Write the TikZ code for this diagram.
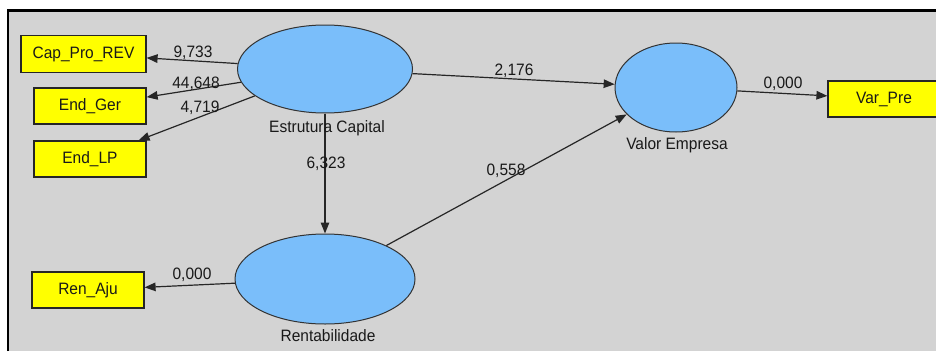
\documentclass[tikz,border=0pt]{standalone}
\usepackage{fontspec}
\setmainfont[FakeStretch=0.94]{Liberation Sans}
\usetikzlibrary{arrows.meta,shapes.geometric}
\definecolor{bgray}{RGB}{211,211,211}
\definecolor{lvblue}{RGB}{122,190,250}
\definecolor{ind}{RGB}{255,255,0}
\definecolor{txt}{RGB}{25,25,25}
\tikzset{
  indbox/.style={draw=black!85, line width=1.2pt, fill=ind, rectangle, minimum width=112pt, minimum height=36pt, inner sep=0pt, font=\fontsize{16.5}{19}\selectfont, text=txt},
  latent/.style={draw=black!80, line width=1pt, fill=lvblue, ellipse, inner sep=0pt},
  conn/.style={draw=black!85, line width=1.2pt, -{Triangle[length=11pt,width=8.5pt]}},
  numlbl/.style={anchor=base, inner sep=0pt, font=\fontsize{16.5}{19}\selectfont, text=txt},
  lvlbl/.style={anchor=base, inner sep=0pt, font=\fontsize{16.5}{19}\selectfont, text=txt}
}
\begin{document}
\begin{tikzpicture}[x=1pt,y=-1pt]
\useasboundingbox (0,0) rectangle (936,351);
\fill[white] (0,0) rectangle (936,351);
\fill[bgray] (8,10.5) rectangle (936,351);
\draw[black, line width=2.4pt] (8,351) -- (8,10.5) -- (936,10.5);
\begin{scope}
\clip (9.5,12) rectangle (936,351);
% latent variables
\node[latent, minimum width=175pt, minimum height=88pt] (ec) at (325,69) {};
\node[latent, minimum width=180pt, minimum height=90pt] (re) at (325,279) {};
\node[latent, minimum width=122pt, minimum height=89pt] (ve) at (676,87.5) {};
% indicators
\node[indbox, minimum width=125pt, minimum height=37pt] (cap) at (83.5,54) {Cap\_Pro\_REV};
\node[indbox] (ger) at (90,106) {End\_Ger};
\node[indbox] (lp) at (90,159) {End\_LP};
\node[indbox] (ren) at (88,290) {Ren\_Aju};
\node[indbox] (var) at (884,99) {Var\_Pre};
% connectors
\draw[conn] (ec) -- (cap);
\draw[conn] (ec) -- (ger);
\draw[conn] (ec) -- (lp);
\draw[conn] (ec.south) -- (re.north);
\draw[conn] (ec) -- (ve);
\draw[conn] (re) -- (ve);
\draw[conn] (ve) -- (var);
\draw[conn] (re) -- (ren);
% labels
\node[lvlbl] (ecl) at (327,132) {Estrutura Capital};
\node[lvlbl] (vel) at (677,149.5) {Valor Empresa};
\node[lvlbl] (rel) at (328,341) {Rentabilidade};
\node[numlbl] (n1) at (193,57) {9,733};
\node[numlbl] (n2) at (196,88) {44,648};
\node[numlbl] (n3) at (200,112) {4,719};
\node[numlbl] (n4) at (326,168) {6,323};
\node[numlbl] (n5) at (514,75) {2,176};
\node[numlbl] (n6) at (783,88) {0,000};
\node[numlbl] (n7) at (506,175) {0,558};
\node[numlbl] (n8) at (192,279) {0,000};
\end{scope}
\end{tikzpicture}
\end{document}
